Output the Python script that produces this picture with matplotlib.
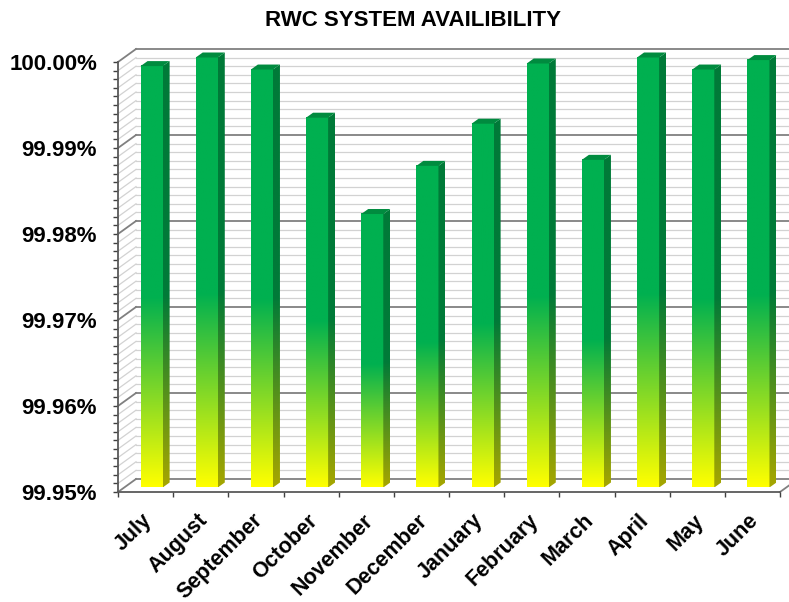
import numpy as np
import matplotlib
matplotlib.use('Agg')
import matplotlib.pyplot as plt
from matplotlib.colors import LinearSegmentedColormap
from matplotlib.patches import Polygon
from matplotlib.ticker import FixedLocator, AutoMinorLocator, FuncFormatter
import matplotlib.transforms as mtransforms

plt.rcParams['font.family'] = ['Liberation Sans', 'DejaVu Sans']

months = ['July', 'August', 'September', 'October', 'November', 'December',
          'January', 'February', 'March', 'April', 'May', 'June']
availability = [99.9990, 100.0000, 99.9986, 99.9930, 99.9818, 99.9874,
                99.9923, 99.9993, 99.9881, 100.0000, 99.9986, 99.9997]
y_ticks = [99.95, 99.96, 99.97, 99.98, 99.99, 100.00]

W, H = 789, 602
fig = plt.figure(figsize=(W / 100, H / 100), dpi=100)
# front plane of the box, in pixels: x 118..780, y 62..492
ax = fig.add_axes([118 / W, 1 - 492 / H, (780 - 118) / W, (492 - 62) / H])

n = len(months)
ymin, ymax = y_ticks[0], y_ticks[-1]

# one pixel in data units, used for the fake depth
px = n / (780 - 118)
py = (ymax - ymin) / (492 - 62)
wall_dx, wall_dy = 18 * px, 13 * py     # back wall
bar_ox, bar_oy = 6 * px, 4.5 * py       # bar front face sits a bit inside
depth_dx, depth_dy = 7 * px, 5 * py     # bar thickness

# back wall + left wall grid
levels = np.linspace(ymin, ymax, 51)
for k, lv in enumerate(levels):
    major = k % 10 == 0
    c = '#808080' if major else '#d2d2d2'
    lw = 1.3 if major else 0.9
    z = 0.6 if major else 0.5
    ax.plot([wall_dx, n + wall_dx], [lv + wall_dy] * 2, color=c, lw=lw,
            zorder=z, clip_on=False)
    ax.plot([0, wall_dx], [lv, lv + wall_dy], color=c, lw=lw,
            zorder=z, clip_on=False)
# right end of the floor
ax.plot([n, n + wall_dx], [ymin, ymin + wall_dy], color='#808080', lw=1.3,
        zorder=0.6, clip_on=False)

front_cmap = LinearSegmentedColormap.from_list(
    'front', [(0, '#ffff00'), (0.45, '#00b050'), (1, '#00b050')])
side_cmap = LinearSegmentedColormap.from_list(
    'side', [(0, '#a6a600'), (0.45, '#007a38'), (1, '#007a38')])
grad = np.linspace(0, 1, 256).reshape(-1, 1)

centers = np.arange(n) + 0.5
bars = ax.bar(centers + bar_ox, np.array(availability) - ymin,
              bottom=ymin + bar_oy, width=0.4, color='none',
              edgecolor='none', zorder=2, clip_on=False)

for bar in bars:
    x0 = bar.get_x()
    x1 = x0 + bar.get_width()
    y0 = bar.get_y()
    y1 = y0 + bar.get_height()

    # front face
    im = ax.imshow(grad, cmap=front_cmap, origin='lower',
                   extent=[x0, x1, y0, y1], aspect='auto',
                   interpolation='bilinear', zorder=2)
    im.set_clip_on(False)

    # right side face
    side = Polygon([(x1, y0), (x1 + depth_dx, y0 + depth_dy),
                    (x1 + depth_dx, y1 + depth_dy), (x1, y1)],
                   closed=True, facecolor='none', edgecolor='none')
    ax.add_patch(side)
    im = ax.imshow(grad, cmap=side_cmap, origin='lower',
                   extent=[x1, x1 + depth_dx, y0, y1 + depth_dy],
                   aspect='auto', interpolation='bilinear', zorder=2)
    im.set_clip_path(side)
    im.set_clip_box(fig.bbox)

    # top face
    ax.add_patch(Polygon([(x0, y1), (x1, y1), (x1 + depth_dx, y1 + depth_dy),
                          (x0 + depth_dx, y1 + depth_dy)], closed=True,
                         facecolor='#008b3f', edgecolor='none', zorder=2.1,
                         clip_on=False))

ax.set_xlim(0, n)
ax.set_ylim(ymin, ymax)

for s in ['top', 'right']:
    ax.spines[s].set_visible(False)
for s in ['left', 'bottom']:
    ax.spines[s].set_color('#595959')
    ax.spines[s].set_linewidth(1.3)

ax.yaxis.set_major_locator(FixedLocator(y_ticks))
ax.yaxis.set_minor_locator(AutoMinorLocator(10))
ax.yaxis.set_major_formatter(FuncFormatter(lambda v, p: f'{v:.2f}%'))
ax.tick_params(axis='y', which='both', direction='out', color='#404040',
               width=1.0, length=3.6)
ax.tick_params(axis='y', which='major', pad=11.5, labelsize=16)
for lab in ax.get_yticklabels():
    lab.set_fontweight('bold')

ax.set_xticks(np.arange(n + 1))
ax.set_xticklabels([])
ax.set_xticks(centers, minor=True)
ax.set_xticklabels(months, minor=True, rotation=45, ha='right',
                   rotation_mode='anchor', fontsize=15.5, fontweight='bold')
ax.tick_params(axis='x', which='major', direction='out', color='#404040',
               width=1.0, length=3.6)
ax.tick_params(axis='x', which='minor', length=0, pad=13)
shift = mtransforms.ScaledTranslation(-4 / 100, 0, fig.dpi_scale_trans)
for lab in ax.get_xticklabels(minor=True):
    lab.set_transform(lab.get_transform() + shift)

fig.text(413 / W, 1 - 20 / H, 'RWC SYSTEM AVAILIBILITY', ha='center',
         va='center', fontsize=16, fontweight='bold')

fig.savefig('out.png', dpi=100)
